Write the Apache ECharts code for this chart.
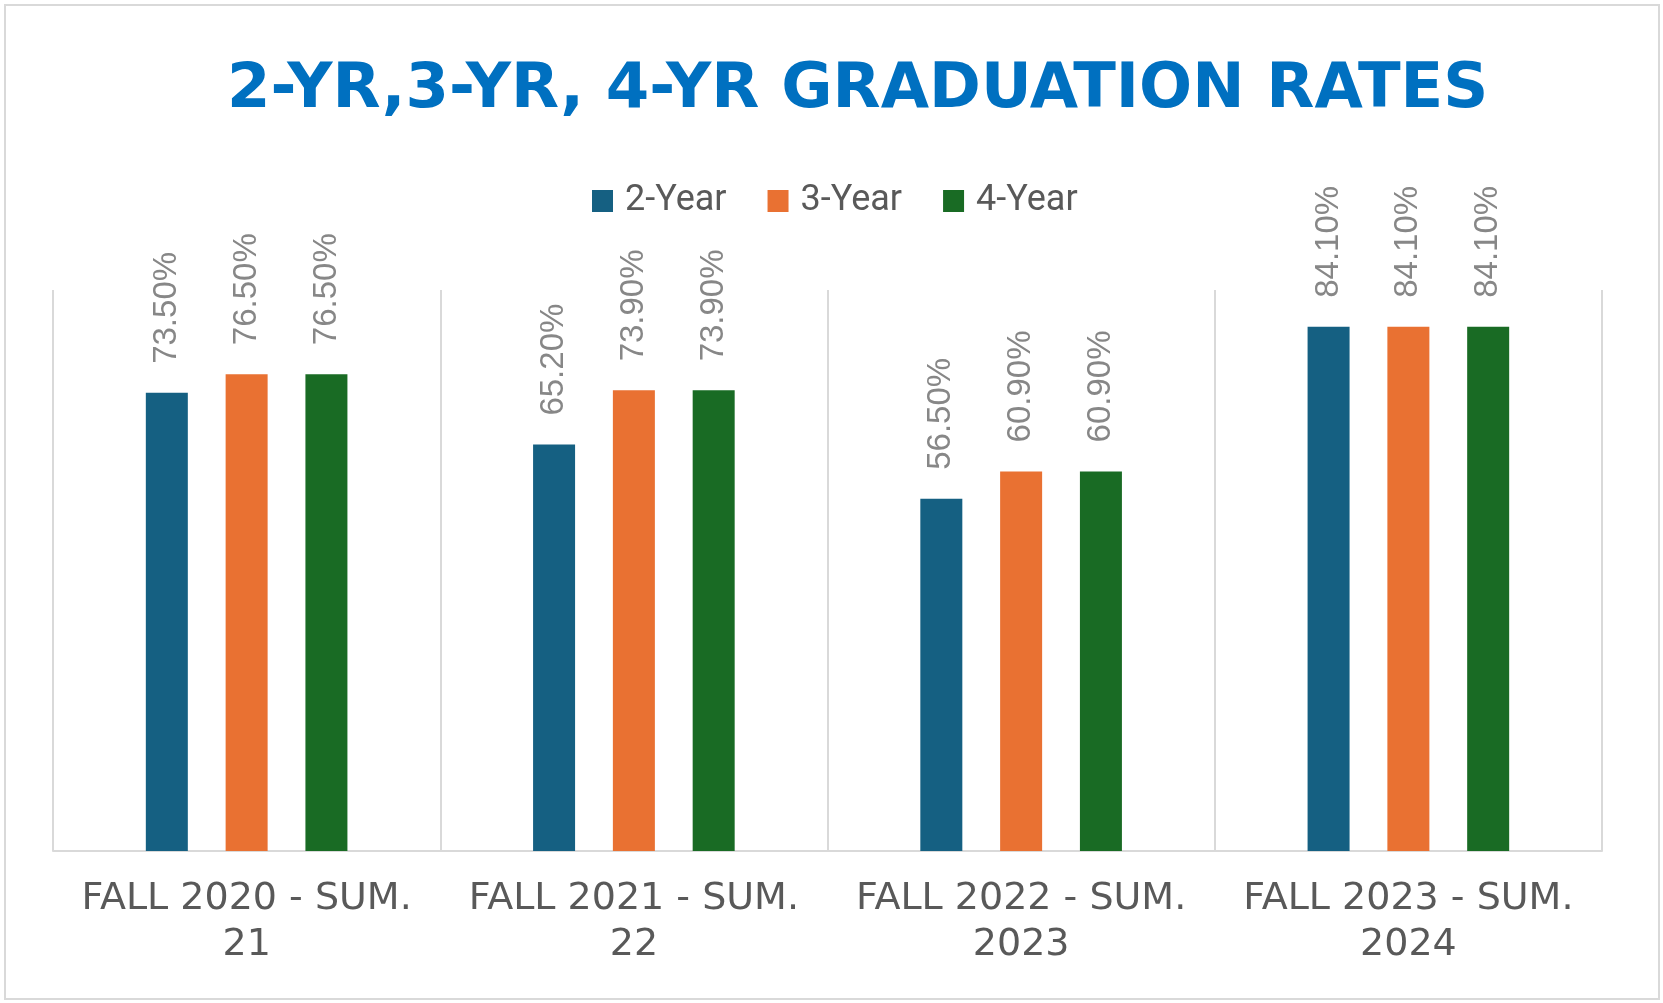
<!DOCTYPE html>
<html>
<head>
<meta charset="utf-8">
<title>2-YR,3-YR, 4-YR Graduation Rates</title>
<script src="https://cdn.jsdelivr.net/npm/echarts@6/dist/echarts.min.js"></script>
<style>
html, body { margin: 0; padding: 0; background: #fff; }
#divGrad { width: 1663px; height: 1003px; }
</style>
</head>
<body>
<div id="divGrad"></div>
<script>
"use strict";

var terms = ["FALL 2020 - SUM. 21", "FALL 2021 - SUM. 22", "FALL 2022 - SUM. 2023", "FALL 2023 - SUM. 2024"];
var seriesNames = ["2-Year", "3-Year", "4-Year"];
var rate2yr = [73.5, 65.2, 56.5, 84.1];
var rate3yr = [76.5, 73.9, 60.9, 84.1];
var rate4yr = [76.5, 73.9, 60.9, 84.1];
var colors = ["#156082", "#E97132", "#196B24"];

var chartGrad = echarts.init(document.getElementById("divGrad"));

function makeBar(name, data, color) {
    return {
        name: name,
        type: "bar",
        data: data,
        barWidth: 42,
        barGap: "90%",
        itemStyle: { color: color },
        label: {
            show: true,
            position: "top",
            rotate: 90,
            align: "left",
            verticalAlign: "middle",
            distance: 29,
            fontFamily: "Liberation Sans, Arial, sans-serif",
            fontSize: 33,
            color: "#878787",
            formatter: function(p) { return p.value.toFixed(2) + "%"; }
        }
    };
}

var optionGrad = {
    backgroundColor: "#fff",
    animation: false,
    title: {
        text: "2-YR,3-YR, 4-YR GRADUATION RATES",
        left: 222,
        top: 54,
        textStyle: {
            fontFamily: "DejaVu Sans, sans-serif",
            fontWeight: "bold",
            fontSize: 62.5,
            color: "#0070C0"
        }
    },
    legend: {
        data: seriesNames,
        left: 587,
        top: 178,
        itemWidth: 21,
        itemHeight: 22,
        itemGap: 41,
        icon: "rect",
        textStyle: {
            fontFamily: "Roboto, sans-serif",
            fontSize: 36,
            color: "#595959",
            padding: [0, 0, 0, 7]
        }
    },
    grid: { left: 53, right: 61, top: 290, bottom: 152, containLabel: false },
    xAxis: [{
        type: "category",
        data: terms,
        axisLine: { show: true, lineStyle: { color: "#d9d9d9", width: 2 } },
        axisTick: { show: false },
        splitLine: { show: true, lineStyle: { color: "#d9d9d9", width: 2 } },
        axisLabel: {
            interval: 0,
            margin: 25,
            fontFamily: "DejaVu Sans, sans-serif",
            fontSize: 38,
            lineHeight: 46,
            color: "#595959",
            formatter: function(v) { return v.replace("SUM. ", "SUM.\n"); }
        }
    }],
    yAxis: [{ type: "value", min: 0, max: 90, show: false, splitLine: { show: false } }],
    graphic: [{
        type: "rect",
        shape: { x: 5, y: 5, width: 1654, height: 994 },
        style: { fill: "none", stroke: "#d9d9d9", lineWidth: 2 },
        silent: true
    }],
    series: [
        makeBar(seriesNames[0], rate2yr, colors[0]),
        makeBar(seriesNames[1], rate3yr, colors[1]),
        makeBar(seriesNames[2], rate4yr, colors[2])
    ]
};

chartGrad.setOption(optionGrad);
</script>
</body>
</html>
